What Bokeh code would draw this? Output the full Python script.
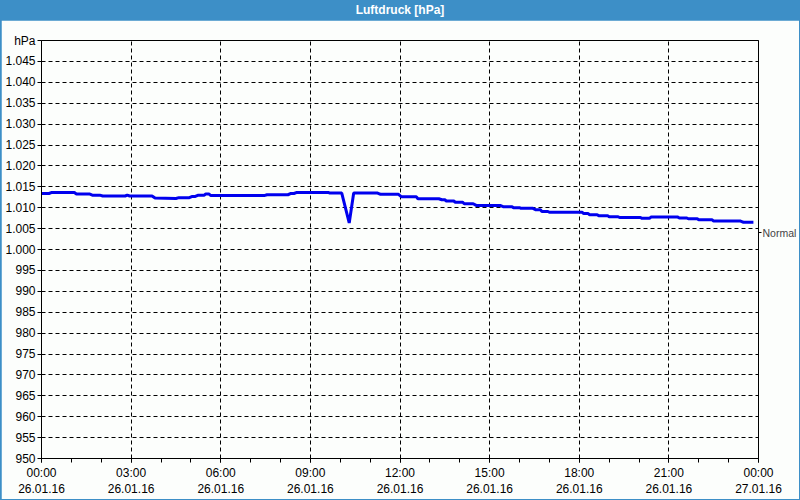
from bokeh.plotting import figure
from bokeh.models import FixedTicker, LinearAxis, Range1d, Div
from bokeh.layouts import column
from bokeh.embed import file_html
from bokeh.resources import INLINE

# ---- data (hours after 26.01.16 00:00, pressure in hPa) ----
hours = [0.0, 0.25, 0.35, 1.1, 1.17, 1.6, 1.7, 1.95, 2.05, 2.8, 2.87, 2.95, 3.7, 3.8,
         4.5, 4.6, 4.95, 5.05, 5.15, 5.25, 5.45, 5.5, 5.6, 5.67, 7.45, 7.55, 8.25, 8.35,
         8.45, 8.55, 9.6, 9.65, 10.05, 10.3, 10.45, 11.25, 11.35, 11.95, 12.05, 12.55,
         12.6, 13.3, 13.4, 13.5, 13.55, 13.8, 13.85, 14.1, 14.15, 14.45, 14.55, 15.35,
         15.45, 15.75, 15.8, 16.0, 16.05, 16.45, 16.55, 16.7, 16.75, 16.95, 17.0, 18.1,
         18.15, 18.3, 18.35, 18.6, 18.65, 18.95, 19.0, 19.3, 19.35, 20.05, 20.1, 20.35,
         20.4, 21.3, 21.35, 21.6, 21.65, 21.95, 22.0, 22.45, 22.5, 23.4, 23.5, 23.83]
pressure = [1013.4, 1013.4, 1013.65, 1013.65, 1013.3, 1013.3, 1013.0, 1013.0, 1012.8, 1012.8,
            1013.0, 1012.8, 1012.8, 1012.3, 1012.2, 1012.4, 1012.4, 1012.7, 1012.7, 1013.0,
            1013.0, 1013.3, 1013.3, 1012.9, 1012.9, 1013.1, 1013.1, 1013.4, 1013.4, 1013.65,
            1013.65, 1013.5, 1013.5, 1006.35, 1013.5, 1013.5, 1013.2, 1013.2, 1012.6, 1012.6,
            1012.15, 1012.15, 1011.9, 1011.9, 1011.6, 1011.6, 1011.3, 1011.3, 1010.95, 1010.95,
            1010.55, 1010.55, 1010.25, 1010.25, 1010.0, 1010.0, 1009.85, 1009.85, 1009.5, 1009.5,
            1009.1, 1009.1, 1008.9, 1008.9, 1008.6, 1008.6, 1008.3, 1008.3, 1008.1, 1008.1,
            1007.85, 1007.85, 1007.65, 1007.65, 1007.45, 1007.45, 1007.75, 1007.75, 1007.55, 1007.55,
            1007.35, 1007.35, 1007.1, 1007.1, 1006.8, 1006.8, 1006.5, 1006.5]
normal_level = 1004

x_ticks = [0, 3, 6, 9, 12, 15, 18, 21, 24]
x_minor_ticks = list(range(0, 25))
x_tick_labels = ["00:00\n26.01.16", "03:00\n26.01.16", "06:00\n26.01.16", "09:00\n26.01.16",
                 "12:00\n26.01.16", "15:00\n26.01.16", "18:00\n26.01.16", "21:00\n26.01.16",
                 "00:00\n27.01.16"]
y_ticks = list(range(950, 1051, 5))
y_tick_labels = ["950", "955", "960", "965", "970", "975", "980", "985", "990", "995",
                 "1.000", "1.005", "1.010", "1.015", "1.020", "1.025", "1.030", "1.035",
                 "1.040", "1.045", "hPa"]
title_text = "Luftdruck [hPa]"

BLUE = "#3d8fc7"
BG = "#fcfefc"
FONT = "Liberation Sans"

p = figure(width=798, height=479, x_range=Range1d(0, 24), y_range=Range1d(950, 1050),
           output_backend="svg", toolbar_location=None,
           min_border_left=40, min_border_right=39, min_border_top=20, min_border_bottom=39,
           background_fill_color=BG, border_fill_color=BG, margin=(0, 1, 1, 1))
p.outline_line_color = "black"
p.outline_line_alpha = 1.0

p.line(hours, pressure, line_color="#0000ee", line_width=3)

xa = p.xaxis[0]
xa.ticker = FixedTicker(ticks=x_ticks, minor_ticks=x_minor_ticks)
xa.major_label_overrides = {t: l for t, l in zip(x_ticks, x_tick_labels)}
ya = p.yaxis[0]
ya.ticker = FixedTicker(ticks=y_ticks)
ya.major_label_overrides = {t: l for t, l in zip(y_ticks, y_tick_labels)}

for ax in (xa, ya):
    ax.axis_line_color = "black"
    ax.major_tick_line_color = "black"
    ax.minor_tick_line_color = "black"
    ax.major_tick_in = 0
    ax.major_tick_out = 4
    ax.minor_tick_in = 0
    ax.minor_tick_out = 4
    ax.major_label_text_font = FONT
    ax.major_label_text_font_size = "12px"
    ax.major_label_text_color = "black"
ya.major_label_standoff = 2
xa.major_label_standoff = 3
xa.major_label_text_line_height = 1.2

ra = LinearAxis(ticker=FixedTicker(ticks=[normal_level]),
                major_label_overrides={normal_level: "Normal"})
ra.axis_line_color = "black"
ra.major_tick_line_color = "black"
ra.major_tick_in = 0
ra.major_tick_out = 3
ra.minor_tick_line_color = None
ra.major_label_standoff = 1
ra.major_label_text_font = FONT
ra.major_label_text_font_size = "10.5px"
p.add_layout(ra, "right")

for g in (p.xgrid[0], p.ygrid[0]):
    g.grid_line_color = "black"
    g.grid_line_dash = "4 3"
    g.grid_line_width = 1
p.xgrid[0].ticker = FixedTicker(ticks=x_ticks)
p.ygrid[0].ticker = FixedTicker(ticks=y_ticks)

title = Div(text=title_text, width=800, height=20, margin=(0, 0, 0, 0),
            styles={"background-color": BLUE, "color": "white", "font-weight": "bold",
                    "font-family": FONT, "font-size": "12px", "text-align": "center",
                    "line-height": "20px", "padding": "0px"})

layout = column(title, p, width=800, height=500, margin=(0, 0, 0, 0),
                styles={"background-color": BLUE})

open("out.html", "w").write(file_html(layout, INLINE))
